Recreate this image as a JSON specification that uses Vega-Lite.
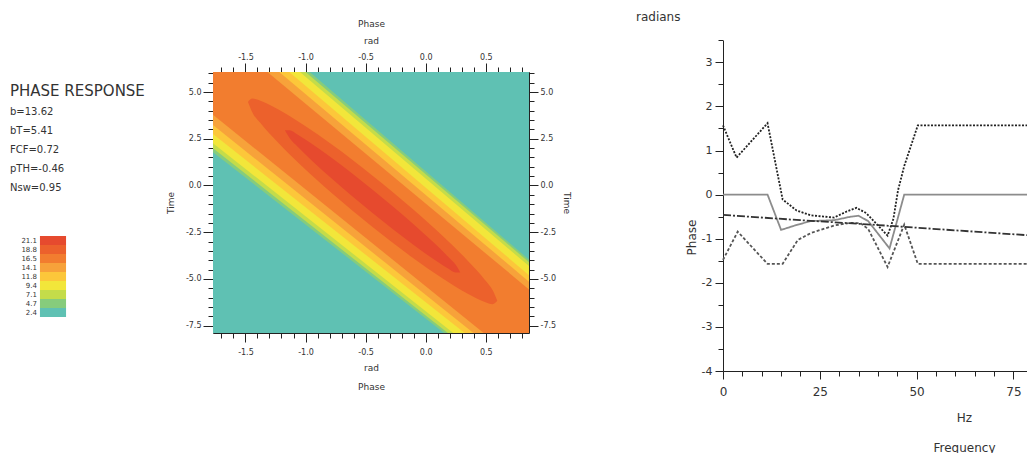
{
  "$schema": "https://vega.github.io/schema/vega-lite/v6.json",
  "background": "white",
  "padding": {"left": 10, "top": 11, "right": 0, "bottom": 0},
  "spacing": 65,
  "resolve": {"scale": {"color": "independent", "strokeDash": "independent"}, "legend": {"color": "independent"}},
  "config": {
    "view": {"stroke": null},
    "font": "DejaVu Sans",
    "axis": {
      "grid": false,
      "domainColor": "#222",
      "tickColor": "#222",
      "labelColor": "#333",
      "titleColor": "#333",
      "labelFont": "DejaVu Sans",
      "titleFont": "DejaVu Sans",
      "titleFontWeight": "normal",
      "labelFlush": false,
      "labelOverlap": false,
      "labelBound": false
    },
    "title": {"font": "DejaVu Sans", "subtitleFont": "DejaVu Sans"}
  },
  "datasets": {
    "heat": [
      {"lvl": "2.4", "p": -1.77, "t1": -7.89, "t2": 6.07},
      {"lvl": "2.4", "p": 0.86, "t1": -7.89, "t2": 6.07},
      {"lvl": "4.7", "p": -1.77, "t1": 1.78, "t2": 10.494},
      {"lvl": "4.7", "p": 0.86, "t1": -11.436, "t2": -3.968},
      {"lvl": "7.1", "p": -1.77, "t1": 1.988, "t2": 10.286},
      {"lvl": "7.1", "p": 0.86, "t1": -11.298, "t2": -4.106},
      {"lvl": "9.4", "p": -1.77, "t1": 2.264, "t2": 10.01},
      {"lvl": "9.4", "p": 0.86, "t1": -11.091, "t2": -4.313},
      {"lvl": "11.8", "p": -1.77, "t1": 2.748, "t2": 9.526},
      {"lvl": "11.8", "p": 0.86, "t1": -10.607, "t2": -4.797},
      {"lvl": "14.1", "p": -1.77, "t1": 3.232, "t2": 9.042},
      {"lvl": "14.1", "p": 0.86, "t1": -10.261, "t2": -5.143},
      {"lvl": "16.5", "p": -1.77, "t1": 3.786, "t2": 8.488},
      {"lvl": "16.5", "p": 0.86, "t1": -9.846, "t2": -5.558},
      {"lvl": "18.8", "p": -1.479, "t1": 4.471, "t2": 4.471},
      {"lvl": "18.8", "p": -1.442, "t1": 3.909, "t2": 4.647},
      {"lvl": "18.8", "p": -1.375, "t1": 3.337, "t2": 4.535},
      {"lvl": "18.8", "p": -1.233, "t1": 2.321, "t2": 4.096},
      {"lvl": "18.8", "p": -1.025, "t1": 1.0, "t2": 3.278},
      {"lvl": "18.8", "p": -0.775, "t1": -0.444, "t2": 2.166},
      {"lvl": "18.8", "p": -0.442, "t1": -2.225, "t2": 0.524},
      {"lvl": "18.8", "p": -0.108, "t1": -3.866, "t2": -1.257},
      {"lvl": "18.8", "p": 0.142, "t1": -4.979, "t2": -2.701},
      {"lvl": "18.8", "p": 0.35, "t1": -5.797, "t2": -4.021},
      {"lvl": "18.8", "p": 0.492, "t1": -6.235, "t2": -5.037},
      {"lvl": "18.8", "p": 0.558, "t1": -6.348, "t2": -5.61},
      {"lvl": "18.8", "p": 0.596, "t1": -6.171, "t2": -6.171},
      {"lvl": "21.1", "p": -1.172, "t1": 2.952, "t2": 2.952},
      {"lvl": "21.1", "p": -1.133, "t1": 2.545, "t2": 2.952},
      {"lvl": "21.1", "p": -1.067, "t1": 2.086, "t2": 2.727},
      {"lvl": "21.1", "p": -0.942, "t1": 1.299, "t2": 2.209},
      {"lvl": "21.1", "p": -0.775, "t1": 0.332, "t2": 1.439},
      {"lvl": "21.1", "p": -0.442, "t1": -1.471, "t2": -0.23},
      {"lvl": "21.1", "p": -0.108, "t1": -3.139, "t2": -2.032},
      {"lvl": "21.1", "p": 0.058, "t1": -3.909, "t2": -3.0},
      {"lvl": "21.1", "p": 0.183, "t1": -4.428, "t2": -3.786},
      {"lvl": "21.1", "p": 0.25, "t1": -4.652, "t2": -4.246},
      {"lvl": "21.1", "p": 0.288, "t1": -4.652, "t2": -4.652}
    ],
    "frame": [
      {"p": -1.77, "t": -7.89},
      {"p": 0.86, "t": 6.07}
    ],
    "lines": [
      {"s": "A", "f": 0, "ph": 1.57},
      {"s": "A", "f": 3.5, "ph": 0.84},
      {"s": "A", "f": 11.5, "ph": 1.62},
      {"s": "A", "f": 15.4, "ph": -0.11},
      {"s": "A", "f": 19, "ph": -0.36},
      {"s": "A", "f": 22.7, "ph": -0.47},
      {"s": "A", "f": 28.7, "ph": -0.52},
      {"s": "A", "f": 32, "ph": -0.38},
      {"s": "A", "f": 34.5, "ph": -0.3},
      {"s": "A", "f": 37, "ph": -0.42},
      {"s": "A", "f": 42.5, "ph": -0.93},
      {"s": "A", "f": 44, "ph": -0.55},
      {"s": "A", "f": 45.2, "ph": 0.1},
      {"s": "A", "f": 46.8, "ph": 0.65},
      {"s": "A", "f": 50.3, "ph": 1.57},
      {"s": "A", "f": 78.5, "ph": 1.57},
      {"s": "B", "f": 0, "ph": -1.48},
      {"s": "B", "f": 3.8, "ph": -0.84},
      {"s": "B", "f": 11.5, "ph": -1.57},
      {"s": "B", "f": 15.4, "ph": -1.57},
      {"s": "B", "f": 19.3, "ph": -1.03},
      {"s": "B", "f": 22.7, "ph": -0.87},
      {"s": "B", "f": 28.7, "ph": -0.7},
      {"s": "B", "f": 33, "ph": -0.64},
      {"s": "B", "f": 35.5, "ph": -0.65},
      {"s": "B", "f": 37.5, "ph": -0.78},
      {"s": "B", "f": 42.5, "ph": -1.64},
      {"s": "B", "f": 46.8, "ph": -0.68},
      {"s": "B", "f": 50.3, "ph": -1.57},
      {"s": "B", "f": 78.5, "ph": -1.57},
      {"s": "C", "f": 0, "ph": 0},
      {"s": "C", "f": 11.5, "ph": 0},
      {"s": "C", "f": 15, "ph": -0.8},
      {"s": "C", "f": 19.3, "ph": -0.68},
      {"s": "C", "f": 22.7, "ph": -0.6},
      {"s": "C", "f": 28.7, "ph": -0.58},
      {"s": "C", "f": 33, "ph": -0.5},
      {"s": "C", "f": 35, "ph": -0.48},
      {"s": "C", "f": 37.5, "ph": -0.6},
      {"s": "C", "f": 43, "ph": -1.22},
      {"s": "C", "f": 46.8, "ph": 0},
      {"s": "C", "f": 78.5, "ph": 0},
      {"s": "D", "f": 0, "ph": -0.46},
      {"s": "D", "f": 20, "ph": -0.58},
      {"s": "D", "f": 40, "ph": -0.69},
      {"s": "D", "f": 60, "ph": -0.81},
      {"s": "D", "f": 78.5, "ph": -0.92}
    ]
  },
  "hconcat": [
    {
      "width": 316,
      "height": 261,
      "title": {
        "text": "PHASE RESPONSE",
        "subtitle": ["b=13.62", "bT=5.41", "FCF=0.72", "pTH=-0.46", "Nsw=0.95"],
        "anchor": "start",
        "frame": "group",
        "orient": "top",
        "dx": -203,
        "dy": 178,
        "fontSize": 15,
        "fontWeight": "normal",
        "color": "#333",
        "subtitleFontSize": 10,
        "subtitleColor": "#333",
        "subtitleLineHeight": 19,
        "subtitlePadding": 8
      },
      "layer": [
        {
          "data": {"name": "heat"},
          "mark": {"type": "area", "clip": true, "interpolate": "monotone", "opacity": 1, "strokeWidth": 0},
          "encoding": {
            "x": {
              "field": "p", "type": "quantitative",
              "scale": {"domain": [-1.77, 0.86], "nice": false, "zero": false},
              "axis": {
                "orient": "bottom",
                "values": [-1.7, -1.6, -1.5, -1.4, -1.3, -1.2, -1.1, -1, -0.9, -0.8, -0.7, -0.6, -0.5, -0.4, -0.3, -0.2, -0.1, 0, 0.1, 0.2, 0.3, 0.4, 0.5, 0.6, 0.7, 0.8],
                "labelExpr": "abs(datum.value % 0.5) < 1e-9 ? replace(format(datum.value, '.1f'), '\u2212', '-') : ''",
                "tickSize": {"condition": {"test": "abs(datum.value % 0.5) < 1e-9", "value": 9}, "value": 5},
                "labelFontSize": 8,
                "labelPadding": 6,
                "title": ["rad", "Phase"],
                "titleFontSize": 9,
                "titleLineHeight": 19,
                "titlePadding": 7
              }
            },
            "y": {
              "field": "t1", "type": "quantitative", "stack": null,
              "scale": {"domain": [-7.89, 6.07], "nice": false, "zero": false},
              "axis": {
                "orient": "left",
                "values": [-7.5, -7, -6.5, -6, -5.5, -5, -4.5, -4, -3.5, -3, -2.5, -2, -1.5, -1, -0.5, 0, 0.5, 1, 1.5, 2, 2.5, 3, 3.5, 4, 4.5, 5, 5.5, 6],
                "labelExpr": "abs(datum.value % 2.5) < 1e-9 ? replace(format(datum.value, '.1f'), '\u2212', '-') : ''",
                "tickSize": {"condition": {"test": "abs(datum.value % 2.5) < 1e-9", "value": 10}, "value": 5},
                "labelFontSize": 8,
                "labelPadding": 2,
                "title": "Time",
                "titleFontSize": 9,
                "titlePadding": 10
              }
            },
            "y2": {"field": "t2"},
            "color": {
              "field": "lvl", "type": "nominal",
              "scale": {
                "domain": ["21.1", "18.8", "16.5", "14.1", "11.8", "9.4", "7.1", "4.7", "2.4"],
                "range": ["#e64a2e", "#ec612c", "#f27d2f", "#f7a23a", "#fcc73a", "#f2e63a", "#c4dc4a", "#86cc7c", "#5fc1b3"]
              },
              "legend": {
                "orient": "none",
                "legendX": -164.5,
                "legendY": 164,
                "title": null,
                "padding": 0,
                "symbolType": "M-2.9,-1H2.9V1H-2.9Z",
                "symbolSize": 81,
                "symbolStrokeWidth": 0,
                "symbolOpacity": 1,
                "rowPadding": 0,
                "labelFontSize": 7,
                "labelAlign": "right",
                "labelOffset": -20.5,
                "labelColor": "#333"
              }
            }
          }
        },
        {
          "data": {"name": "frame"},
          "mark": {"type": "point", "opacity": 0, "clip": true},
          "encoding": {
            "x": {
              "field": "p", "type": "quantitative",
              "scale": {"domain": [-1.77, 0.86], "nice": false, "zero": false},
              "axis": {
                "orient": "top",
                "values": [-1.7, -1.6, -1.5, -1.4, -1.3, -1.2, -1.1, -1, -0.9, -0.8, -0.7, -0.6, -0.5, -0.4, -0.3, -0.2, -0.1, 0, 0.1, 0.2, 0.3, 0.4, 0.5, 0.6, 0.7, 0.8],
                "labelExpr": "abs(datum.value % 0.5) < 1e-9 ? replace(format(datum.value, '.1f'), '\u2212', '-') : ''",
                "tickSize": {"condition": {"test": "abs(datum.value % 0.5) < 1e-9", "value": 9}, "value": 5},
                "labelFontSize": 8,
                "labelPadding": 2,
                "title": ["Phase", "rad"],
                "titleFontSize": 9,
                "titleLineHeight": 17,
                "titlePadding": 8
              }
            },
            "y": {
              "field": "t", "type": "quantitative",
              "scale": {"domain": [-7.89, 6.07], "nice": false, "zero": false},
              "axis": {
                "orient": "right",
                "values": [-7.5, -7, -6.5, -6, -5.5, -5, -4.5, -4, -3.5, -3, -2.5, -2, -1.5, -1, -0.5, 0, 0.5, 1, 1.5, 2, 2.5, 3, 3.5, 4, 4.5, 5, 5.5, 6],
                "labelExpr": "abs(datum.value % 2.5) < 1e-9 ? replace(format(datum.value, '.1f'), '\u2212', '-') : ''",
                "tickSize": {"condition": {"test": "abs(datum.value % 2.5) < 1e-9", "value": 9}, "value": 5},
                "labelFontSize": 8,
                "labelPadding": 2,
                "title": "Time",
                "titleAngle": 90,
                "titleFontSize": 9,
                "titlePadding": 6
              }
            }
          }
        }
      ],
      "resolve": {"axis": {"x": "independent", "y": "independent"}}
    },
    {
      "width": 304,
      "height": 299,
      "data": {"name": "lines"},
      "title": {
        "text": "radians",
        "anchor": "start",
        "frame": "group",
        "dx": -87,
        "dy": -6,
        "fontSize": 12,
        "fontWeight": "normal",
        "color": "#333"
      },
      "mark": {"type": "line", "strokeWidth": 1.8},
      "encoding": {
        "x": {
          "field": "f", "type": "quantitative",
          "scale": {"domain": [0, 78.5], "nice": false, "zero": false},
          "axis": {
            "values": [0, 5, 10, 15, 20, 25, 30, 35, 40, 45, 50, 55, 60, 65, 70, 75],
            "labelExpr": "datum.value % 25 === 0 ? format(datum.value, 'd') : ''",
            "tickSize": {"condition": {"test": "datum.value % 25 === 0", "value": 8}, "value": 5},
            "labelFontSize": 12,
            "labelPadding": 7,
            "title": ["Hz", "Frequency"],
            "titleFontSize": 12,
            "titleLineHeight": 30,
            "titleX": 241,
            "titleY": 41,
            "titleAlign": "center",
            "titleBaseline": "top"
          }
        },
        "y": {
          "field": "ph", "type": "quantitative",
          "scale": {"domain": [-4, 3.5], "nice": false, "zero": false, "range": [299, -31.7]},
          "axis": {
            "values": [-4, -3.5, -3, -2.5, -2, -1.5, -1, -0.5, 0, 0.5, 1, 1.5, 2, 2.5, 3, 3.5],
            "labelExpr": "datum.value % 1 === 0 ? replace(format(datum.value, 'd'), '\u2212', '-') : ''",
            "tickSize": {"condition": {"test": "datum.value % 1 === 0", "value": 8}, "value": 5},
            "labelFontSize": 11,
            "labelPadding": 3,
            "title": "Phase",
            "titleFontSize": 12,
            "titleX": -32,
            "titleY": 165,
            "titleAlign": "center",
            "titleBaseline": "middle",
            "titleAngle": -90
          }
        },
        "color": {
          "field": "s", "type": "nominal",
          "scale": {"domain": ["A", "B", "C", "D"], "range": ["#222222", "#555555", "#8c8c8c", "#333333"]},
          "legend": null
        },
        "strokeDash": {
          "field": "s", "type": "nominal",
          "scale": {"domain": ["A", "B", "C", "D"], "range": [[2, 1.5], [3, 2], [1, 0], [8, 2, 2, 2]]},
          "legend": null
        }
      }
    }
  ]
}
